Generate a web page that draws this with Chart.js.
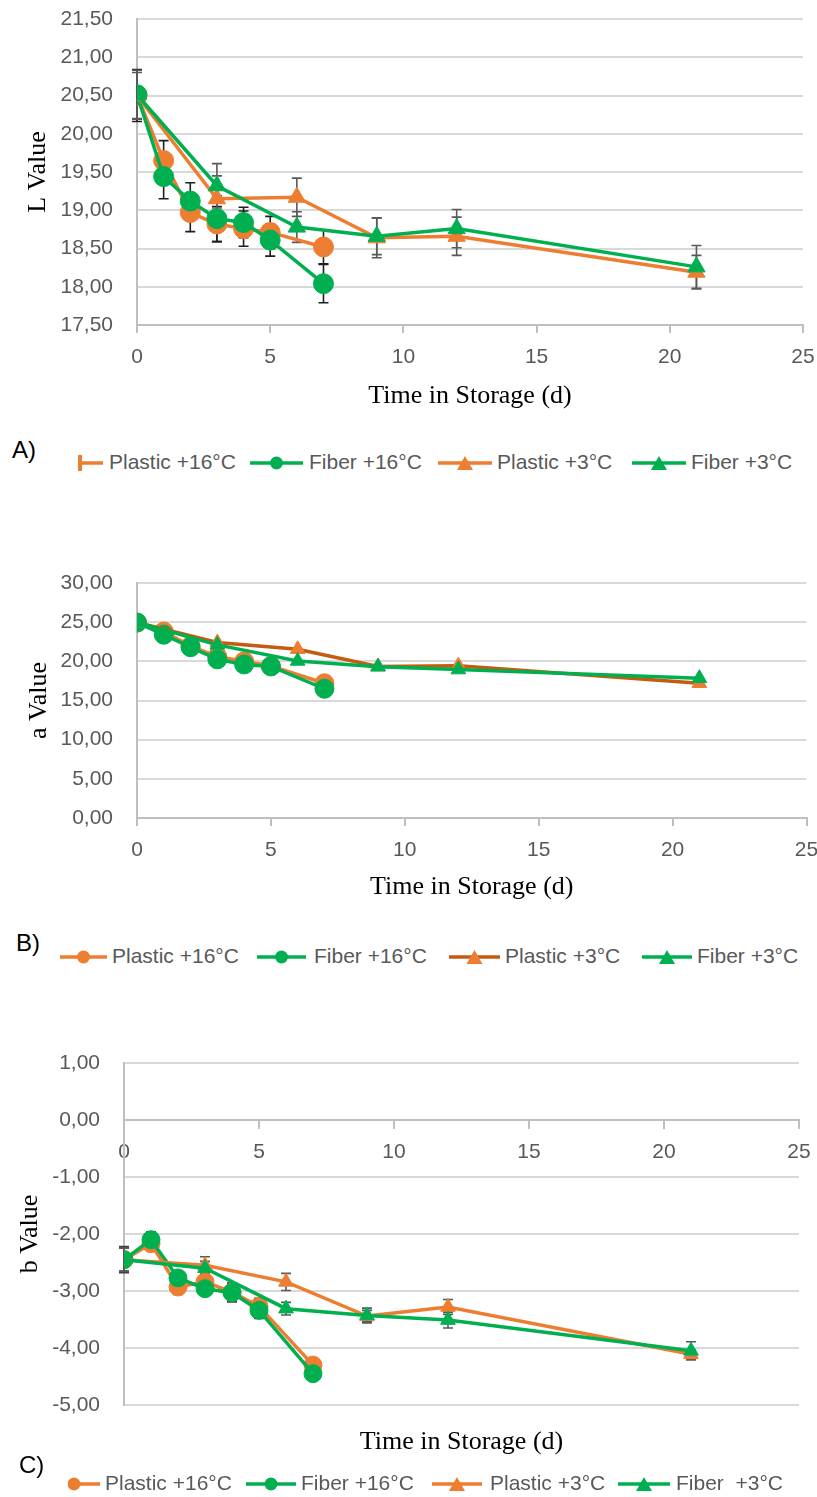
<!DOCTYPE html>
<html>
<head>
<meta charset="utf-8">
<script src="https://cdn.jsdelivr.net/npm/chart.js@4.4.1/dist/chart.umd.min.js"></script>
<style>
  body { margin: 0; background: #fff; }
  #page { position: relative; width: 817px; height: 1497px; overflow: hidden; font-family: 'Liberation Sans', Arial, sans-serif; }
  canvas { position: absolute; left: 0; }
  .panel { position: absolute; font-size: 24px; color: #000; line-height: 28px; }
  .legend-text { position: absolute; font-size: 21px; color: #595959; white-space: pre; line-height: 24px; }
  svg.sym { position: absolute; overflow: visible; }
</style>
</head>
<body>
<div id="page">
  <canvas id="chartL" width="817" height="420" style="top:0px"></canvas>
  <canvas id="chartA" width="817" height="360" style="top:560px"></canvas>
  <canvas id="chartB" width="817" height="420" style="top:1040px"></canvas>
</div>
<script>
// storage days for each temperature
const daysAt16 = [0, 1, 2, 3, 4, 5, 7];
const daysAt3 = [0, 3, 6, 9, 12, 21];

// L value
const lPlastic16 = [20.50, 19.65, 18.97, 18.82, 18.76, 18.71, 18.52];
const lFiber16 = [20.51, 19.44, 19.12, 18.89, 18.84, 18.61, 18.04];
const lPlastic3 = [20.50, 19.15, 19.17, 18.64, 18.66, 18.19];
const lFiber3 = [20.51, 19.32, 18.78, 18.66, 18.76, 18.26];
const lPlastic16Err = [0.34, 0.26, 0.25, 0.23, 0.23, 0.21, 0.22];
const lFiber16Err = [0.32, 0.29, 0.24, 0.30, 0.20, 0.21, 0.25];
const lPlastic3Err = [0.30, 0.30, 0.25, 0.26, 0.25, 0.22];
const lFiber3Err = [0.32, 0.29, 0.20, 0.24, 0.25, 0.28];

// a value
const aPlastic16 = [24.95, 23.80, 21.95, 20.60, 20.00, 19.40, 17.20];
const aFiber16 = [24.95, 23.40, 21.80, 20.25, 19.60, 19.35, 16.50];
const aPlastic3 = [24.95, 22.40, 21.55, 19.35, 19.45, 17.20];
const aFiber3 = [24.95, 22.10, 20.05, 19.30, 18.95, 17.85];

// b value
const bPlastic16 = [-2.45, -2.17, -2.93, -2.84, -3.02, -3.27, -4.30];
const bFiber16 = [-2.45, -2.10, -2.77, -2.96, -3.03, -3.34, -4.45];
const bPlastic3 = [-2.45, -2.55, -2.84, -3.44, -3.28, -4.11];
const bFiber3 = [-2.45, -2.60, -3.31, -3.43, -3.51, -4.05];
const bPlastic16Err = [0.23, 0.12, 0.13, 0.12, 0.16, 0.14, 0.10];
const bFiber16Err = [0.22, 0.14, 0.10, 0.10, 0.16, 0.14, 0.10];
const bPlastic3Err = [0.20, 0.15, 0.15, 0.10, 0.13, 0.08];
const bFiber3Err = [0.20, 0.12, 0.11, 0.13, 0.14, 0.16];

const seriesNames = ['Plastic +16°C', 'Fiber +16°C', 'Plastic +3°C', 'Fiber +3°C'];

const ORANGE = '#ED7D31';
const DARK_ORANGE = '#C55A11';
const GREEN = '#00B050';

Chart.defaults.font.family = "'Liberation Sans', Arial, sans-serif";

function points(xs, ys) {
  return xs.map((x, i) => ({ x: x, y: ys[i] }));
}

function series(label, xs, ys, opts) {
  return Object.assign({
    label: label,
    data: points(xs, ys),
    borderWidth: 3.5,
    tension: 0,
    fill: false,
    pointBorderWidth: 1
  }, opts);
}

const commaTicks = v => v.toFixed(2).replace('.', ',');

// keep the plot box fixed: no extra room for overhanging tick labels
function noOverhang(s) {
  s.paddingTop = 0; s.paddingBottom = 0;
  s.paddingLeft = 0; s.paddingRight = 0;
}

// vertical error bars with caps, drawn under the lines
const errorBars = {
  id: 'errorBars',
  beforeDatasetsDraw(chart) {
    const ctx = chart.ctx;
    const xs = chart.scales.x, ys = chart.scales.y;
    chart.data.datasets.forEach(ds => {
      if (!ds.errors) return;
      ctx.save();
      ctx.strokeStyle = ds.errorColor;
      ctx.lineWidth = 1.6;
      ds.data.forEach((p, i) => {
        const e = ds.errors[i];
        if (!e) return;
        const px = xs.getPixelForValue(p.x);
        const top = ys.getPixelForValue(p.y + e);
        const bot = ys.getPixelForValue(p.y - e);
        ctx.beginPath();
        ctx.moveTo(px, top); ctx.lineTo(px, bot);
        ctx.moveTo(px - 5, top); ctx.lineTo(px + 5, top);
        ctx.moveTo(px - 5, bot); ctx.lineTo(px + 5, bot);
        ctx.stroke();
      });
      ctx.restore();
    });
  }
};

function makeChart(id, o) {
  const xScale = {
    type: 'linear',
    min: 0, max: 25,
    position: o.xAtZero ? { y: 0 } : 'bottom',
    ticks: { stepSize: 5, color: '#595959', font: { size: 21 }, padding: 12 },
    grid: { drawOnChartArea: false, drawTicks: true, tickLength: 8, color: '#BFBFBF', lineWidth: 2 },
    border: { color: '#BFBFBF', width: 2 },
    title: {
      display: !o.xAtZero,
      text: 'Time in Storage (d)',
      color: '#000',
      font: { family: "'Liberation Serif', 'Times New Roman', serif", size: 26 },
      padding: { top: 0, bottom: o.xTitlePad }
    },
    afterFit: s => {
      if (!o.xAtZero) s.height = o.xHeight;
      noOverhang(s);
    }
  };
  const scales = {
    x: xScale,
    y: {
      type: 'linear',
      min: o.yMin, max: o.yMax,
      ticks: { stepSize: o.yStep, callback: commaTicks, color: '#595959', font: { size: 21 }, padding: 24 },
      grid: { color: '#D9D9D9', lineWidth: 2, drawTicks: false },
      border: { color: '#BFBFBF', width: 2 },
      title: {
        display: true,
        text: o.yTitle,
        color: '#000',
        font: { family: "'Liberation Serif', 'Times New Roman', serif", size: 26 },
        padding: { top: o.yTitlePad, bottom: 0 }
      },
      afterFit: s => {
        s.width = o.plotLeft;
        noOverhang(s);
      }
    }
  };
  if (o.xAtZero) {
    // bottom axis only carries the title when the tick axis crosses at zero
    scales.x2 = {
      type: 'linear',
      position: 'bottom',
      min: 0, max: 25,
      ticks: { display: false },
      grid: { display: false },
      border: { display: false },
      title: {
        display: true,
        text: 'Time in Storage (d)',
        color: '#000',
        font: { family: "'Liberation Serif', 'Times New Roman', serif", size: 26 },
        padding: { top: 0, bottom: o.xTitlePad }
      },
      afterFit: s => {
        s.height = o.xHeight;
        noOverhang(s);
      }
    };
  }
  return new Chart(document.getElementById(id), {
    type: 'line',
    data: { datasets: o.datasets },
    options: {
      responsive: false,
      animation: false,
      devicePixelRatio: 1,
      layout: { padding: { top: o.padTop, right: o.padRight, bottom: 0, left: 0 } },
      plugins: { legend: { display: false }, tooltip: { enabled: false } },
      scales: scales
    },
    plugins: [errorBars]
  });
}

// A) L value
makeChart('chartL', {
  yMin: 17.5, yMax: 21.5, yStep: 0.5, yTitle: 'L Value',
  plotLeft: 137, padTop: 19, padRight: 14, xHeight: 95, xTitlePad: 8, yTitlePad: 23,
  datasets: [
    series(seriesNames[0], daysAt16, lPlastic16, { borderColor: ORANGE, backgroundColor: ORANGE, pointRadius: 10, pointStyle: 'circle', order: 4, errors: lPlastic16Err, errorColor: '#1f1f1f' }),
    series(seriesNames[1], daysAt16, lFiber16, { borderColor: GREEN, backgroundColor: GREEN, pointRadius: 10, pointStyle: 'circle', order: 3, errors: lFiber16Err, errorColor: '#1f1f1f' }),
    series(seriesNames[2], daysAt3, lPlastic3, { borderColor: ORANGE, backgroundColor: ORANGE, pointRadius: 10, pointStyle: 'triangle', order: 2, errors: lPlastic3Err, errorColor: '#595959' }),
    series(seriesNames[3], daysAt3, lFiber3, { borderColor: GREEN, backgroundColor: GREEN, pointRadius: 10, pointStyle: 'triangle', order: 1, errors: lFiber3Err, errorColor: '#595959' })
  ]
});

// B) a value
makeChart('chartA', {
  yMin: 0, yMax: 30, yStep: 5, yTitle: 'a Value',
  plotLeft: 137, padTop: 23, padRight: 5, xHeight: 102, xTitlePad: 17, yTitlePad: 24,
  datasets: [
    series(seriesNames[0], daysAt16, aPlastic16, { borderColor: ORANGE, backgroundColor: ORANGE, pointRadius: 9.5, pointStyle: 'circle', order: 4 }),
    series(seriesNames[1], daysAt16, aFiber16, { borderColor: GREEN, backgroundColor: GREEN, pointRadius: 9.5, pointStyle: 'circle', order: 3 }),
    series(seriesNames[2], daysAt3, aPlastic3, { borderColor: DARK_ORANGE, backgroundColor: ORANGE, pointBorderColor: ORANGE, pointRadius: 8.5, pointStyle: 'triangle', order: 2 }),
    series(seriesNames[3], daysAt3, aFiber3, { borderColor: GREEN, backgroundColor: GREEN, pointRadius: 8.5, pointStyle: 'triangle', order: 1 })
  ]
});

// C) b value
makeChart('chartB', {
  yMin: -5, yMax: 1, yStep: 1, yTitle: 'b Value', xAtZero: true,
  plotLeft: 124, padTop: 23, padRight: 18, xHeight: 55, xTitlePad: 2, yTitlePad: 15,
  datasets: [
    series(seriesNames[0], daysAt16, bPlastic16, { borderColor: ORANGE, backgroundColor: ORANGE, pointRadius: 9, pointStyle: 'circle', order: 4, errors: bPlastic16Err, errorColor: '#404040' }),
    series(seriesNames[1], daysAt16, bFiber16, { borderColor: GREEN, backgroundColor: GREEN, pointRadius: 9, pointStyle: 'circle', order: 3, errors: bFiber16Err, errorColor: '#404040' }),
    series(seriesNames[2], daysAt3, bPlastic3, { borderColor: ORANGE, backgroundColor: ORANGE, pointRadius: 8.5, pointStyle: 'triangle', order: 2, errors: bPlastic3Err, errorColor: '#595959' }),
    series(seriesNames[3], daysAt3, bFiber3, { borderColor: GREEN, backgroundColor: GREEN, pointRadius: 8.5, pointStyle: 'triangle', order: 1, errors: bFiber3Err, errorColor: '#595959' })
  ]
});

// panel letters and legends (line + marker swatches)
const page = document.getElementById('page');
const SVGNS = 'http://www.w3.org/2000/svg';

function addText(cls, text, left, top) {
  const d = document.createElement('div');
  d.className = cls;
  d.textContent = text;
  d.style.left = left + 'px';
  d.style.top = top + 'px';
  page.appendChild(d);
}

function addSwatch(item, cy) {
  const svg = document.createElementNS(SVGNS, 'svg');
  svg.setAttribute('class', 'sym');
  svg.setAttribute('width', 817);
  svg.setAttribute('height', 30);
  svg.style.left = '0px';
  svg.style.top = (cy - 15) + 'px';
  const line = document.createElementNS(SVGNS, 'line');
  line.setAttribute('x1', item.x1); line.setAttribute('x2', item.x2);
  line.setAttribute('y1', 15); line.setAttribute('y2', 15);
  line.setAttribute('stroke', item.line); line.setAttribute('stroke-width', 3.5);
  svg.appendChild(line);
  let m;
  const mx = item.mx !== undefined ? item.mx : (item.x1 + item.x2) / 2;
  if (item.marker === 'circle') {
    m = document.createElementNS(SVGNS, 'circle');
    m.setAttribute('cx', mx); m.setAttribute('cy', 15); m.setAttribute('r', 6.5);
  } else if (item.marker === 'triangle') {
    m = document.createElementNS(SVGNS, 'polygon');
    m.setAttribute('points', (mx - 8) + ',22 ' + (mx + 8) + ',22 ' + mx + ',8');
  } else {
    m = document.createElementNS(SVGNS, 'rect');
    m.setAttribute('x', mx); m.setAttribute('y', 7); m.setAttribute('width', 4); m.setAttribute('height', 16);
  }
  m.setAttribute('fill', item.fill);
  if (item.clipLeft !== undefined) {
    const cp = document.createElementNS(SVGNS, 'clipPath');
    const cid = 'clip' + Math.round(cy);
    cp.setAttribute('id', cid);
    const r = document.createElementNS(SVGNS, 'rect');
    r.setAttribute('x', item.clipLeft); r.setAttribute('y', 0); r.setAttribute('width', 100); r.setAttribute('height', 30);
    cp.appendChild(r);
    svg.appendChild(cp);
    m.setAttribute('clip-path', 'url(#' + cid + ')');
  }
  svg.appendChild(m);
  page.appendChild(svg);
  addText('legend-text', item.label, item.tx, cy - 13);
}

function addLegend(cy, items) {
  items.forEach(it => addSwatch(it, cy));
}

addText('panel', 'A)', 12, 436);
addLegend(463, [
  { label: seriesNames[0], x1: 78, x2: 103, mx: 78, marker: 'bar', line: ORANGE, fill: ORANGE, tx: 109 },
  { label: seriesNames[1], x1: 250, x2: 303, marker: 'circle', line: GREEN, fill: GREEN, tx: 309 },
  { label: seriesNames[2], x1: 438, x2: 492, marker: 'triangle', line: ORANGE, fill: ORANGE, tx: 497 },
  { label: seriesNames[3], x1: 632, x2: 686, marker: 'triangle', line: GREEN, fill: GREEN, tx: 691 }
]);

addText('panel', 'B)', 16, 929);
addLegend(957, [
  { label: seriesNames[0], x1: 60, x2: 107, marker: 'circle', line: ORANGE, fill: ORANGE, tx: 112 },
  { label: seriesNames[1], x1: 257, x2: 306, marker: 'circle', line: GREEN, fill: GREEN, tx: 314 },
  { label: seriesNames[2], x1: 449, x2: 500, marker: 'triangle', line: DARK_ORANGE, fill: ORANGE, tx: 505 },
  { label: seriesNames[3], x1: 642, x2: 692, marker: 'triangle', line: GREEN, fill: GREEN, tx: 697 }
]);

addText('panel', 'C)', 19, 1451);
addLegend(1484, [
  { label: seriesNames[0], x1: 68, x2: 100, mx: 74, clipLeft: 68, marker: 'circle', line: ORANGE, fill: ORANGE, tx: 105 },
  { label: seriesNames[1], x1: 246, x2: 296, marker: 'circle', line: GREEN, fill: GREEN, tx: 301 },
  { label: seriesNames[2], x1: 432, x2: 482, marker: 'triangle', line: ORANGE, fill: ORANGE, tx: 490 },
  { label: 'Fiber  +3°C', x1: 618, x2: 670, marker: 'triangle', line: GREEN, fill: GREEN, tx: 676 }
]);
</script>
</body>
</html>
